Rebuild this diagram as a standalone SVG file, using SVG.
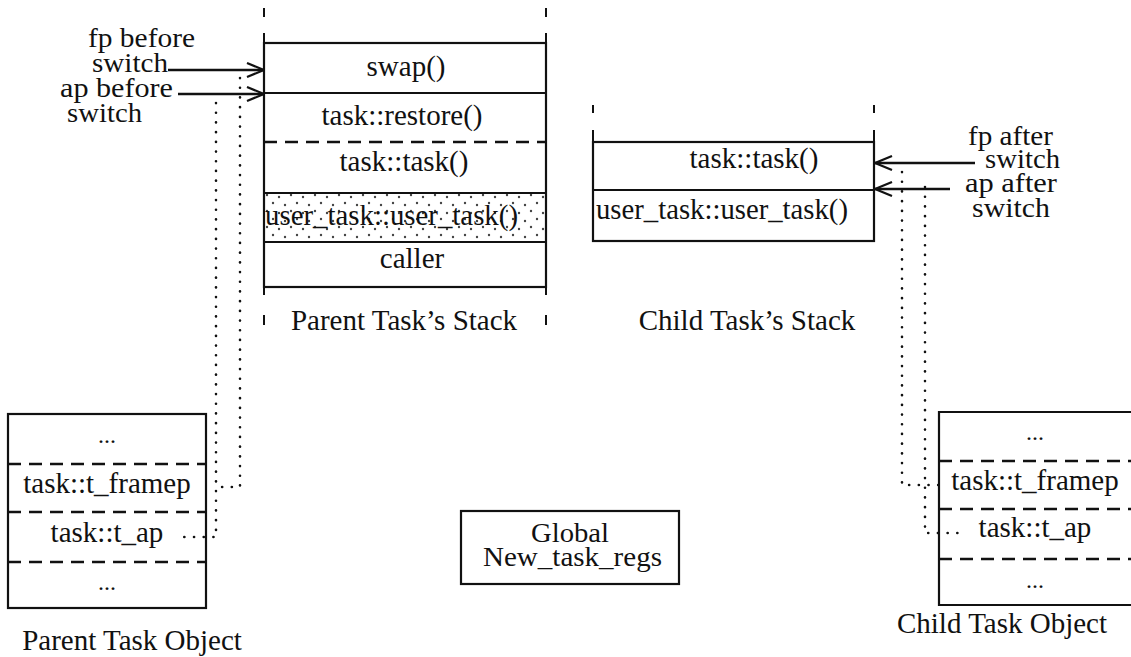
<svg xmlns="http://www.w3.org/2000/svg" width="1131" height="657" viewBox="0 0 1131 657">
<style>
text{font-family:"Liberation Serif","Times New Roman",serif;font-size:29px;fill:#111}
.m{text-anchor:middle}
.s{font-size:27px}
.box{fill:none;stroke:#111;stroke-width:2.2}
.sol{stroke:#111;stroke-width:2.2;fill:none}
.dash{stroke:#111;stroke-width:2.4;stroke-dasharray:13 8;fill:none}
.tick{stroke:#111;stroke-width:2;fill:none}
.dot{stroke:#111;stroke-width:2.6;stroke-linecap:round;stroke-dasharray:0.1 9.6;fill:none}
.arr{stroke:#111;stroke-width:2.4;fill:none;marker-end:url(#ah)}
</style>
<defs>
<marker id="ah" markerUnits="userSpaceOnUse" markerWidth="20" markerHeight="16" viewBox="0 0 20 16" refX="19" refY="8" orient="auto">
<path d="M2,1 L19,8 L2,15" fill="none" stroke="#111" stroke-width="2.2"/>
</marker>
<pattern id="stip" patternUnits="userSpaceOnUse" width="24" height="16">
<circle cx="3" cy="3" r="1.2" fill="#222"/>
<circle cx="15" cy="5" r="1.2" fill="#222"/>
<circle cx="9" cy="11" r="1.2" fill="#222"/>
<circle cx="21" cy="13" r="1.2" fill="#222"/>
</pattern>
</defs>
<rect width="1131" height="657" fill="#fff"/>

<g id="parent-stack">
<rect x="264" y="194" width="282" height="48" fill="url(#stip)" opacity="0.85"/>
<rect class="box" x="264" y="43" width="282" height="244"/>
<line class="sol" x1="264" y1="93" x2="546" y2="93"/>
<line class="dash" x1="264" y1="142" x2="546" y2="142"/>
<line class="sol" x1="264" y1="193" x2="546" y2="193"/>
<line class="sol" x1="264" y1="242" x2="546" y2="242"/>
<path class="tick" d="M264,8V17M264,33V43M546,8V17M546,33V43M264,287V295M264,315V325M546,287V295M546,315V325"/>
<text class="m" x="406" y="76">swap()</text>
<text class="m" x="402" y="125">task::restore()</text>
<text class="m" x="404" y="171">task::task()</text>
<text x="265" y="225" textLength="253" lengthAdjust="spacingAndGlyphs">user_task::user_task()</text>
<text class="m" x="412" y="268">caller</text>
<text class="m" x="404" y="330">Parent Task’s Stack</text>
</g>

<g id="child-stack">
<rect class="box" x="593" y="142" width="281" height="99"/>
<line class="sol" x1="593" y1="190" x2="874" y2="190"/>
<path class="tick" d="M593,105V113M593,130V142M874,105V113M874,130V142"/>
<text class="m" x="754" y="168">task::task()</text>
<text x="596" y="219" textLength="252" lengthAdjust="spacingAndGlyphs">user_task::user_task()</text>
<text class="m" x="747" y="330">Child Task’s Stack</text>
</g>

<g id="parent-object">
<rect class="box" x="8" y="414" width="198" height="194"/>
<line class="dash" x1="8" y1="464" x2="206" y2="464"/>
<line class="dash" x1="8" y1="512" x2="206" y2="512"/>
<line class="dash" x1="8" y1="562" x2="206" y2="562"/>
<text class="m" x="107" y="443" style="font-size:24px">...</text>
<text class="m" x="107" y="493">task::t_framep</text>
<text class="m" x="107" y="542">task::t_ap</text>
<text class="m" x="107" y="590" style="font-size:24px">...</text>
<text class="m" x="132" y="650">Parent Task Object</text>
</g>

<g id="child-object">
<path class="box" d="M1134,412H939V605H1134"/>
<line class="dash" x1="939" y1="461" x2="1131" y2="461"/>
<line class="dash" x1="939" y1="509" x2="1131" y2="509"/>
<line class="dash" x1="939" y1="559" x2="1131" y2="559"/>
<text class="m" x="1035" y="440" style="font-size:24px">...</text>
<text class="m" x="1035" y="490">task::t_framep</text>
<text class="m" x="1035" y="537">task::t_ap</text>
<text class="m" x="1035" y="588" style="font-size:24px">...</text>
<text class="m" x="1002" y="633">Child Task Object</text>
</g>

<g id="global">
<rect class="box" x="461" y="511" width="218" height="73"/>
<text class="s" x="531" y="542" textLength="78" lengthAdjust="spacingAndGlyphs">Global</text>
<text class="s" x="483" y="566" textLength="179" lengthAdjust="spacingAndGlyphs">New_task_regs</text>
</g>

<g id="labels">
<text class="s" x="88" y="47" textLength="107" lengthAdjust="spacingAndGlyphs">fp before</text>
<text class="s" x="92" y="72" textLength="76" lengthAdjust="spacingAndGlyphs">switch</text>
<text class="s" x="60" y="97" textLength="113" lengthAdjust="spacingAndGlyphs">ap before</text>
<text class="s" x="67" y="122" textLength="75" lengthAdjust="spacingAndGlyphs">switch</text>
<text class="s" x="968" y="145" textLength="85" lengthAdjust="spacingAndGlyphs">fp after</text>
<text class="s" x="985" y="168" textLength="75" lengthAdjust="spacingAndGlyphs">switch</text>
<text class="s" x="965" y="192" textLength="92" lengthAdjust="spacingAndGlyphs">ap after</text>
<text class="s" x="972" y="217" textLength="78" lengthAdjust="spacingAndGlyphs">switch</text>
</g>

<g id="connectors">
<line class="arr" x1="168" y1="70" x2="264" y2="70"/>
<line class="arr" x1="178" y1="94" x2="264" y2="94"/>
<line class="arr" x1="975" y1="163" x2="875" y2="163"/>
<line class="arr" x1="950" y1="189" x2="875" y2="189"/>
<path class="dot" d="M240,78V487H213"/>
<path class="dot" d="M216,103V537H180"/>
<path class="dot" d="M902,172V485H939"/>
<path class="dot" d="M925,187V533H963"/>
</g>
</svg>
